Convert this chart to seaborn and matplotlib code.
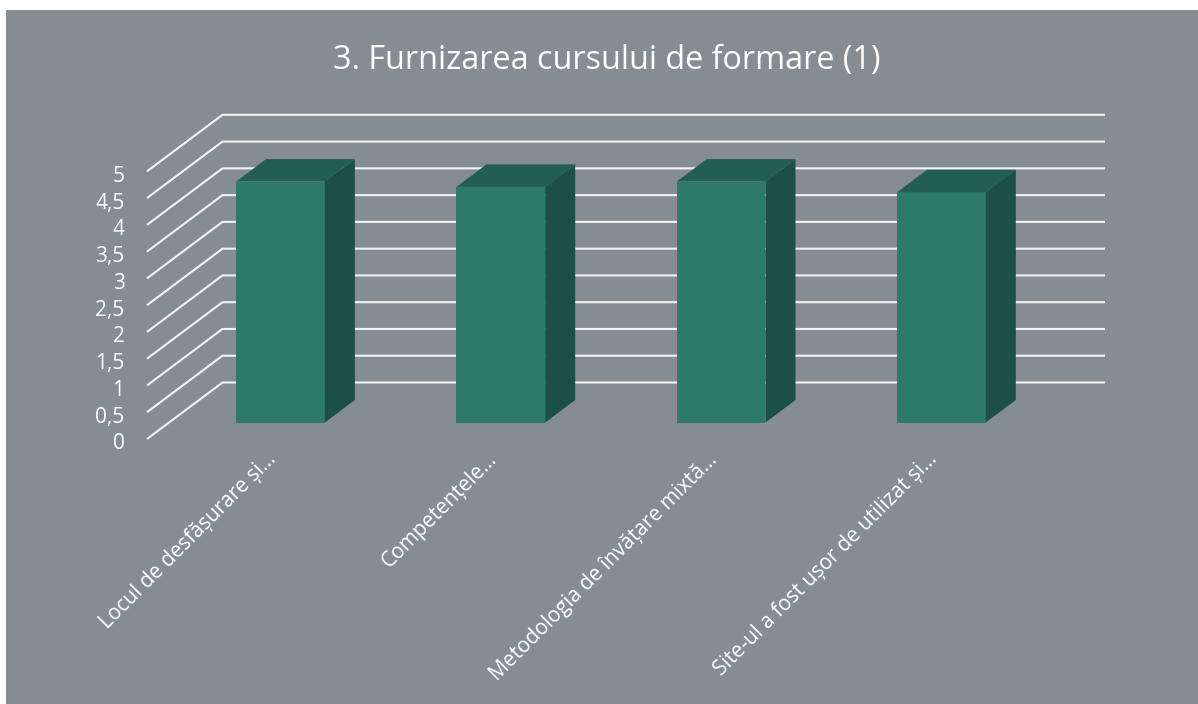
#!/usr/bin/env python3
"""Pseudo-3D column chart: seaborn draws the front faces, the rest is sheared on top."""
import matplotlib
matplotlib.use('Agg')
import matplotlib.pyplot as plt
import pandas as pd
import seaborn as sns
from matplotlib.patches import Polygon

TITLE = '3. Furnizarea cursului de formare (1)'
categories = [
    'Locul de desfășurare și…',
    'Competențele…',
    'Metodologia de învățare mixtă…',
    'Site-ul a fost ușor de utilizat și…',
]
values = [4.5, 4.4, 4.5, 4.3]
y_ticks = [0, 0.5, 1, 1.5, 2, 2.5, 3, 3.5, 4, 4.5, 5]
y_labels = ['0', '0,5', '1', '1,5', '2', '2,5', '3', '3,5', '4', '4,5', '5']

BG = '#868d92'
FRONT = '#2d7a6b'
TOP = '#225e53'
SIDE = '#1b4f48'
W, H = 1198, 704

sns.set_theme(style='white')
plt.rcParams['font.family'] = ['Open Sans', 'DejaVu Sans']

df = pd.DataFrame({'item': categories, 'score': values})

fig = plt.figure(figsize=(W / 100, H / 100), dpi=100, facecolor='white')
fig.add_artist(plt.Rectangle((6 / W, 0), (W - 6) / W, 694 / H, transform=fig.transFigure,
                             facecolor=BG, edgecolor='none', zorder=-5))

# axes box: bars' floor at y=422.5px, 53.54px per unit, 220.3px per category
px_unit = 53.54
px_cat = 220.3
left = 280.5 - 0.5 * px_cat
ax = fig.add_axes([left / W, 1 - 422.5 / H, 4 * px_cat / W, 5 * px_unit / H])
ax.patch.set_alpha(0)
sns.barplot(data=df, x='item', y='score', color=FRONT, saturation=1, width=0.403, ax=ax,
            zorder=3, edgecolor='none', linewidth=0)
ax.set_xlim(-0.5, 3.5)
ax.set_ylim(0, 5)
ax.set_xlabel('')
ax.set_ylabel('')
ax.set_xticks([])
ax.set_yticks([])
sns.despine(ax=ax, left=True, bottom=True)

inv = ax.transData.inverted()
# bar depth in data units (30px right, 22.5px up)
dx = 30.0 / px_cat
dy = 22.5 / px_unit

for v, lab in zip(y_ticks, y_labels):
    disp = ax.transData.transform((-0.5, v))
    # left wall diagonal + back wall horizontal
    p_front = (147, disp[1] - 16.5)
    p_back = (222.5, disp[1] + 40.0)
    p_right = (1105, disp[1] + 40.0)
    xs, ys = zip(*[inv.transform(p) for p in (p_front, p_back, p_right)])
    ax.plot(xs, ys, color='#f2f2f2', lw=1.5, zorder=1, clip_on=False, solid_capstyle='butt')
    # tick label on the front edge
    tx, ty = inv.transform((124.5, disp[1] - 21.5))
    ax.text(tx, ty, lab, color='white', fontsize=15, ha='right', va='center', clip_on=False)

for i, bar in enumerate(ax.patches[:len(values)]):
    x0 = bar.get_x()
    x1 = x0 + bar.get_width()
    h = bar.get_height()
    ax.add_patch(Polygon([(x0, h), (x1, h), (x1 + dx, h + dy), (x0 + dx, h + dy)],
                         facecolor=TOP, edgecolor='none', zorder=3, clip_on=False))
    ax.add_patch(Polygon([(x1, 0), (x1 + dx, dy), (x1 + dx, h + dy), (x1, h)],
                         facecolor=SIDE, edgecolor='none', zorder=3, clip_on=False))
    # rotated category label, right end just below the bar
    lx, ly = inv.transform(ax.transData.transform((i, 0)) + (-7, -34))
    ax.text(lx, ly, categories[i], color='white', fontsize=15, rotation=45,
            rotation_mode='anchor', ha='right', va='center', clip_on=False)

fig.text(607 / W, 1 - 60 / H, TITLE, color='white', fontsize=23.3, ha='center', va='center')

fig.savefig('out.png', dpi=100, facecolor='white')
